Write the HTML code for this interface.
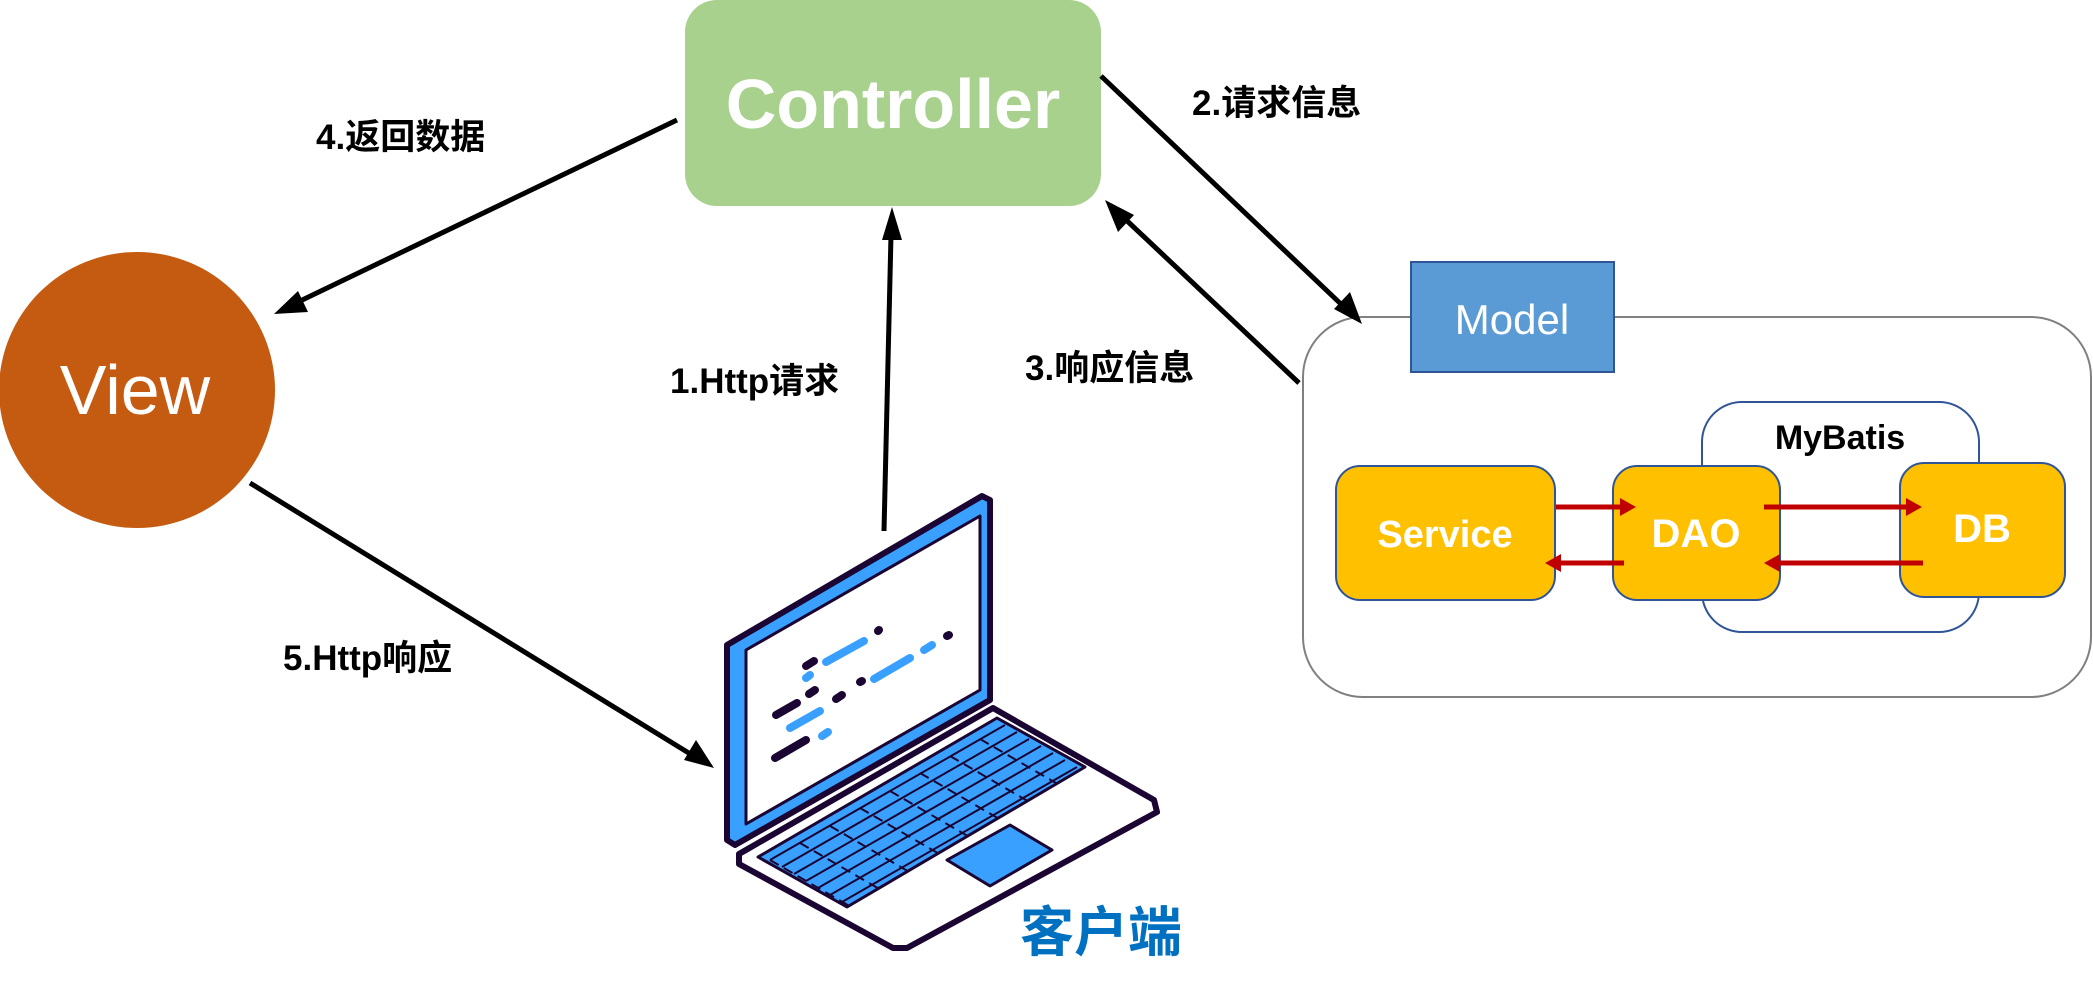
<!DOCTYPE html>
<html><head><meta charset="utf-8"><style>
body{margin:0;background:#fff;}
svg{display:block}
text{font-family:"Liberation Sans","Noto Sans CJK SC",sans-serif;}
</style></head><body>
<svg width="2093" height="1000" viewBox="0 0 2093 1000" xmlns="http://www.w3.org/2000/svg">
<defs><clipPath id="kb"><polygon points="758,857 997,718 1085,767 847,907"/></clipPath></defs>
<rect x="685" y="0" width="416" height="206" rx="32" fill="#a9d18e"/>
<text x="893" y="128" font-size="70" font-weight="bold" fill="#fff" text-anchor="middle">Controller</text>
<circle cx="137" cy="390" r="138" fill="#c55a11"/>
<text x="135" y="414" font-size="70" fill="#fff" text-anchor="middle">View</text>

<rect x="1303" y="317" width="788" height="380" rx="60" fill="#fff" stroke="#808080" stroke-width="2"/>
<rect x="1411" y="262" width="203" height="110" fill="#5b9bd5" stroke="#2f5597" stroke-width="2"/>
<text x="1512" y="334" font-size="42" fill="#fff" text-anchor="middle">Model</text>
<rect x="1702" y="402" width="277" height="230" rx="40" fill="#fff" stroke="#2f5597" stroke-width="2"/>
<text x="1840" y="449" font-size="34" font-weight="bold" fill="#000" text-anchor="middle">MyBatis</text>
<rect x="1336" y="466" width="219" height="134" rx="24" fill="#ffc000" stroke="#2f5597" stroke-width="2"/>
<rect x="1613" y="466" width="167" height="134" rx="24" fill="#ffc000" stroke="#2f5597" stroke-width="2"/>
<rect x="1900" y="463" width="165" height="134" rx="24" fill="#ffc000" stroke="#2f5597" stroke-width="2"/>
<text x="1445" y="547" font-size="38" font-weight="bold" fill="#fff" text-anchor="middle">Service</text>
<text x="1696" y="547" font-size="40" font-weight="bold" fill="#fff" text-anchor="middle">DAO</text>
<text x="1982" y="542" font-size="40" font-weight="bold" fill="#fff" text-anchor="middle">DB</text>
<g stroke="#c00000" stroke-width="5" fill="#c00000">
<line x1="1556" y1="507" x2="1622" y2="507"/><polygon points="1636,507 1620,498 1620,516" stroke="none"/>
<line x1="1764" y1="507" x2="1908" y2="507"/><polygon points="1922,507 1906,498 1906,516" stroke="none"/>
<line x1="1923" y1="563" x2="1778" y2="563"/><polygon points="1764,563 1780,554 1780,572" stroke="none"/>
<line x1="1624" y1="563" x2="1559" y2="563"/><polygon points="1545,563 1561,554 1561,572" stroke="none"/>
</g>

<g stroke="#000" stroke-width="5" fill="#000">
<line x1="884" y1="531" x2="891" y2="235"/><polygon points="892,207 882,240 902,240" stroke="none"/>
<line x1="1101" y1="76" x2="1343" y2="306"/><polygon points="1362,324 1350,292 1334,309" stroke="none"/>
<line x1="1299" y1="383" x2="1123" y2="217"/><polygon points="1105,200 1118,232 1134,215" stroke="none"/>
<line x1="677" y1="120" x2="298" y2="302"/><polygon points="274,314 308,312 298,291" stroke="none"/>
<line x1="250" y1="483" x2="692" y2="755"/><polygon points="714,768 696,740 684,760" stroke="none"/>
</g>
<g font-size="35" font-weight="bold" fill="#000">
<text x="316" y="149">4.返回数据</text>
<text x="1192" y="115">2.请求信息</text>
<text x="670" y="393">1.Http请求</text>
<text x="1025" y="380">3.响应信息</text>
<text x="283" y="670">5.Http响应</text>
</g>

<g stroke="#1a0533" stroke-linejoin="round" stroke-linecap="round">
<polygon points="739,854 993,708 1154,800 1157,812 907,948 893,948 739,864" fill="#fff" stroke-width="6"/>
<polygon points="727,645 982,496 990,500 990,700 735,845 727,840" fill="#3aa0ff" stroke-width="6"/>
<polygon points="746,650 980,516 980,690 746,824" fill="#fff" stroke-width="3"/>
<polygon points="758,857 997,718 1085,767 847,907" fill="#3aa0ff" stroke-width="3"/>
<polygon points="947,860 1010,825 1052,850 990,886" fill="#3aa0ff" stroke-width="3"/>
</g>
<g clip-path="url(#kb)">
<g stroke="#1a0533" stroke-width="2" fill="none">
<line x1="770" y1="860" x2="1005" y2="725"/>
<line x1="782" y1="867" x2="1017" y2="732"/>
<line x1="794" y1="874" x2="1029" y2="739"/>
<line x1="806" y1="881" x2="1041" y2="746"/>
<line x1="818" y1="888" x2="1053" y2="753"/>
<line x1="830" y1="895" x2="1065" y2="760"/>
<line x1="842" y1="902" x2="1077" y2="767"/>
</g>
<g stroke="#1a0533" stroke-width="2" fill="none" stroke-dasharray="10 6">
<line x1="770" y1="860" x2="858" y2="911"/>
<line x1="800" y1="843" x2="888" y2="894"/>
<line x1="830" y1="826" x2="918" y2="877"/>
<line x1="860" y1="808" x2="948" y2="859"/>
<line x1="890" y1="791" x2="978" y2="842"/>
<line x1="920" y1="773" x2="1008" y2="824"/>
<line x1="950" y1="756" x2="1038" y2="807"/>
<line x1="980" y1="739" x2="1068" y2="790"/>
</g>
</g>
<g stroke-width="8" stroke-linecap="round">
<line x1="826" y1="662" x2="864" y2="641" stroke="#3aa0ff"/>
<line x1="878" y1="631" x2="879" y2="630" stroke="#1a0533"/>
<line x1="806" y1="678" x2="810" y2="675" stroke="#3aa0ff"/>
<line x1="776" y1="715" x2="797" y2="703" stroke="#1a0533"/>
<line x1="809" y1="694" x2="815" y2="690" stroke="#1a0533"/>
<line x1="836" y1="699" x2="842" y2="695" stroke="#1a0533"/>
<line x1="860" y1="682" x2="862" y2="681" stroke="#1a0533"/>
<line x1="874" y1="679" x2="910" y2="658" stroke="#3aa0ff"/>
<line x1="924" y1="650" x2="932" y2="645" stroke="#3aa0ff"/>
<line x1="947" y1="636" x2="949" y2="635" stroke="#1a0533"/>
<line x1="790" y1="728" x2="820" y2="711" stroke="#3aa0ff"/>
<line x1="822" y1="736" x2="828" y2="732" stroke="#3aa0ff"/>
<line x1="775" y1="758" x2="806" y2="740" stroke="#1a0533"/>
<line x1="806" y1="666" x2="814" y2="661" stroke="#1a0533"/>
</g>
<text x="1020" y="951" font-size="54" font-weight="bold" fill="#0070c0">客户端</text>
</svg>
</body></html>
